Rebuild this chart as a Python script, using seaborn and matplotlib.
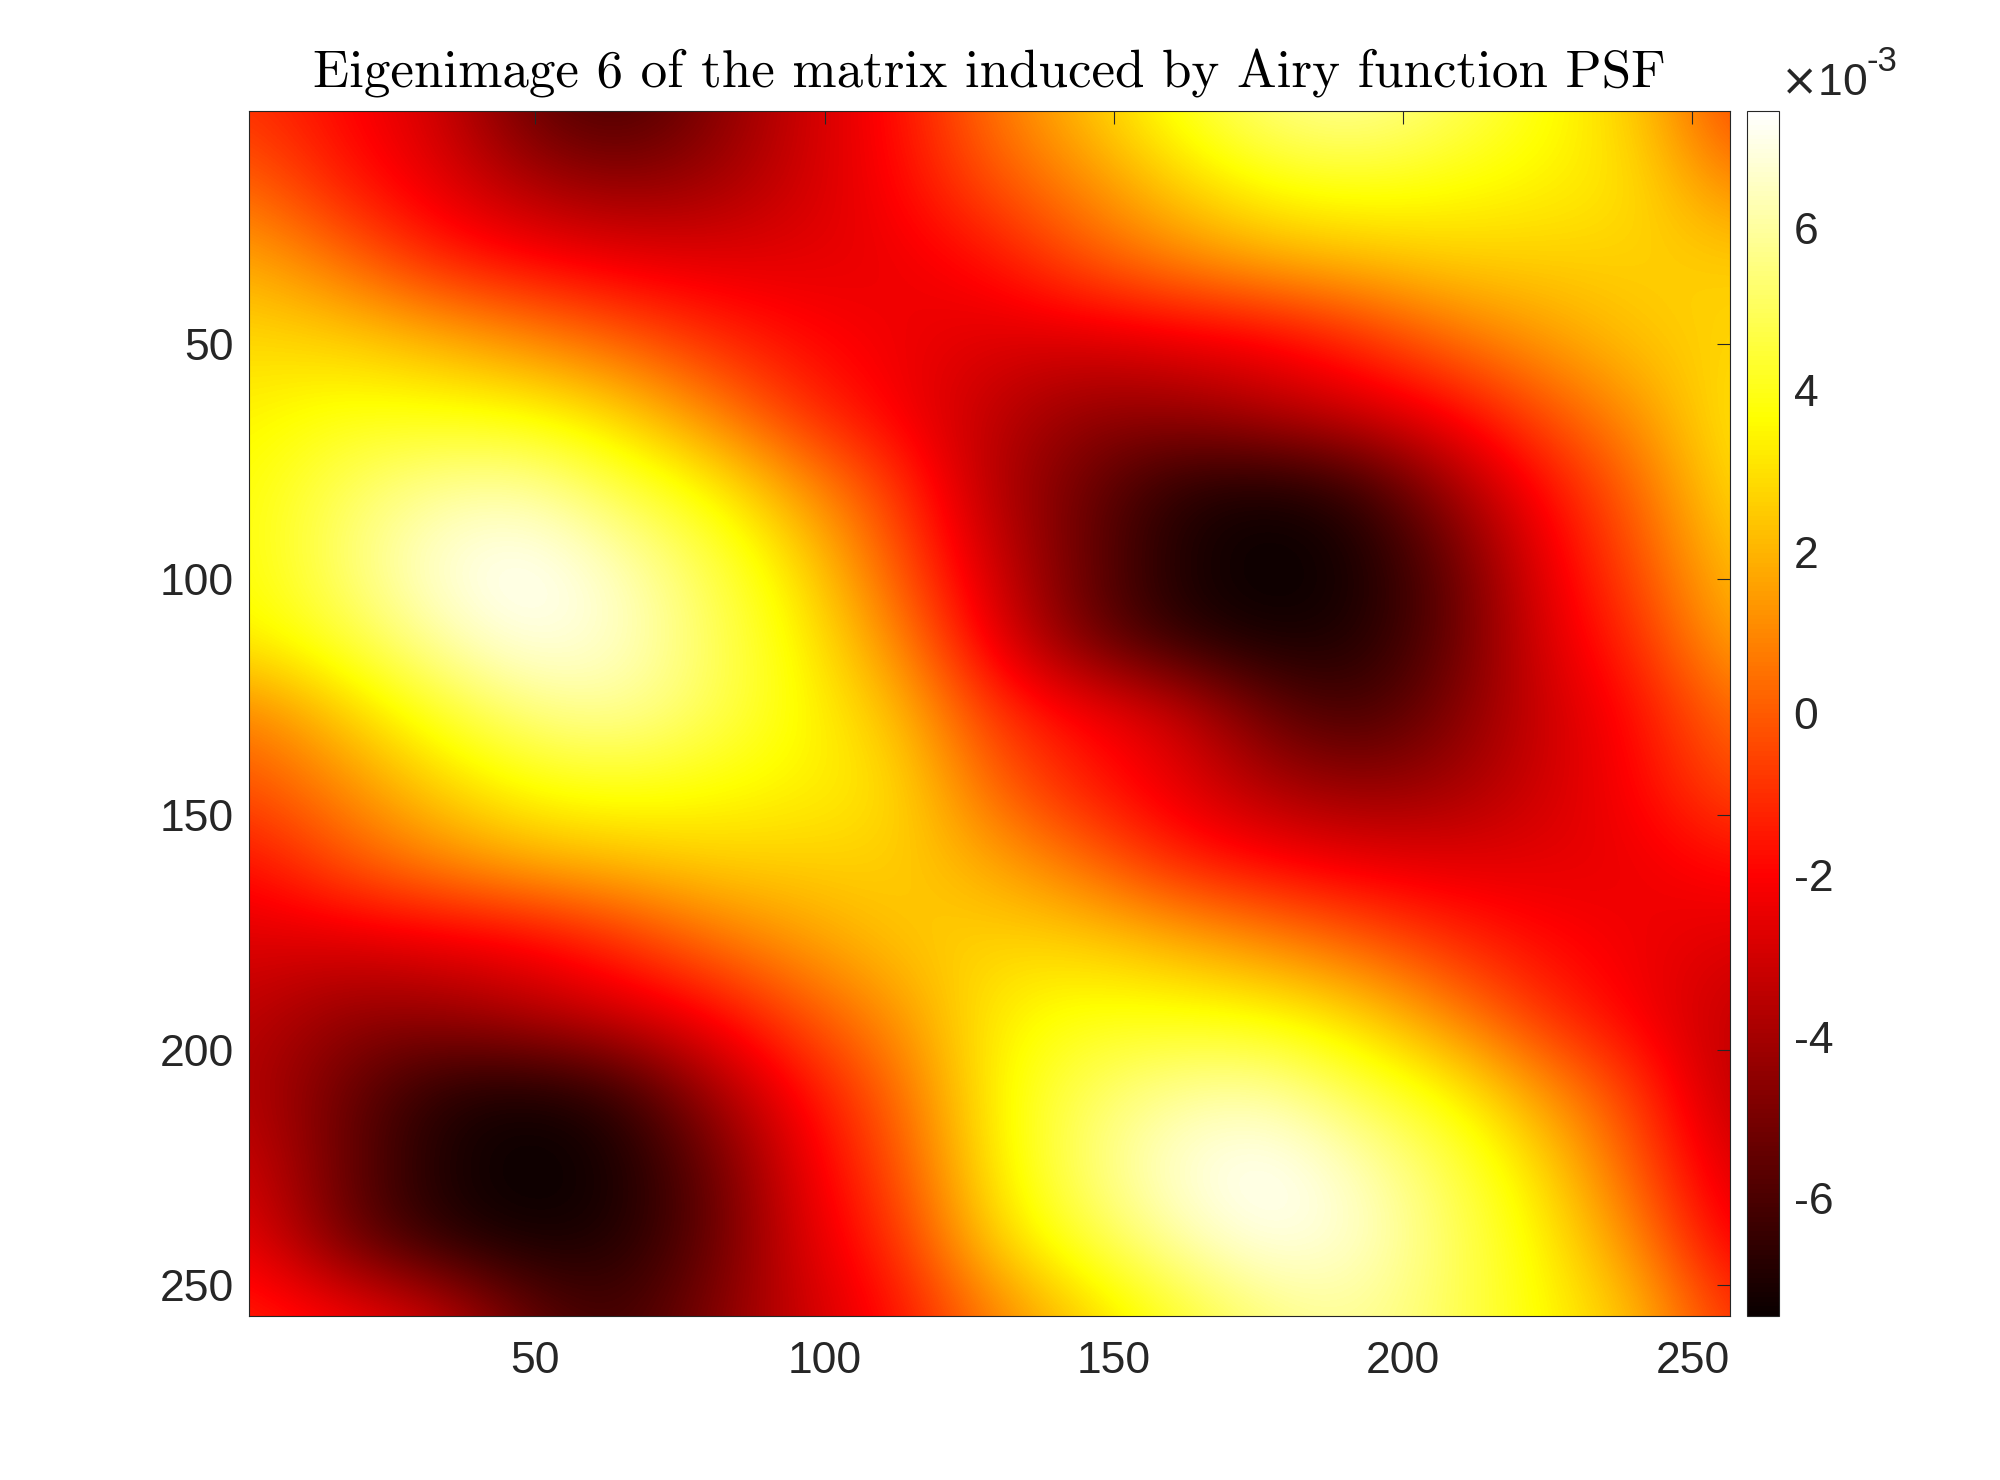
import numpy as np
import matplotlib
matplotlib.use("Agg")
import matplotlib.pyplot as plt
import seaborn as sns

# Eigenimage values (units of 1e-3) on a 16-pixel grid
sample_pos = [0.5, 16.5, 32.5, 48.5, 64.5, 80.5, 96.5, 112.5, 128.5,
              144.5, 160.5, 176.5, 192.5, 208.5, 224.5, 240.5, 256.5]

r000 = [-0.9, -1.9, -2.9, -5.3, -6.3, -4.8, -3.1, -1.8, 0.5, 2.2, 4.0, 5.5, 6.0, 5.0, 3.8, 2.6, -0.6]
r016 = [0.3, -1.4, -2.5, -3.8, -4.4, -4.1, -3.0, -2.0, -0.3, 1.0, 2.6, 3.7, 4.0, 3.7, 3.4, 3.0, 1.0]
r032 = [1.8, 0.5, -1.2, -1.9, -2.4, -2.6, -2.6, -2.4, -1.8, -0.2, 0.9, 1.8, 2.2, 2.6, 2.6, 2.6, 2.6]
r048 = [2.8, 2.6, 1.9, 1.0, 0.0, -1.1, -1.9, -2.3, -2.7, -2.7, -2.4, -2.1, -1.0, 0.5, 1.5, 2.4, 2.7]
r064 = [3.4, 3.9, 3.8, 3.6, 2.7, 0.9, -1.0, -2.2, -3.4, -4.4, -4.3, -3.6, -2.9, -2.0, -0.2, 1.3, 3.2]
r080 = [3.7, 5.0, 5.9, 6.1, 4.7, 3.5, 1.3, -0.8, -3.6, -5.2, -6.8, -7.2, -6.6, -4.1, -1.8, 0.3, 3.0]
r096 = [3.7, 5.3, 6.9, 7.5, 6.4, 4.8, 2.8, -0.1, -3.0, -5.3, -7.0, -7.6, -7.2, -5.4, -2.4, -0.3, 2.4]
r112 = [3.4, 4.5, 6.1, 7.2, 6.7, 5.1, 3.4, 1.0, -2.4, -5.2, -6.8, -7.3, -7.0, -5.5, -2.7, -1.0, 1.8]
r128 = [0.8, 2.5, 4.2, 5.5, 6.0, 5.0, 3.6, 2.3, -0.8, -1.9, -2.9, -5.3, -6.3, -4.8, -3.1, -1.8, 0.5]
r144 = [-0.3, 1.0, 2.6, 3.7, 4.0, 3.7, 3.4, 3.0, 0.3, -1.4, -2.5, -3.8, -4.4, -4.1, -3.0, -2.0, -0.3]
r160 = [-1.8, -0.2, 0.9, 1.8, 2.2, 2.6, 2.6, 2.6, 1.8, 0.5, -1.2, -1.9, -2.4, -2.6, -2.6, -2.4, -1.8]
r176 = [-2.7, -2.7, -2.4, -2.1, -1.0, 0.5, 1.5, 2.4, 2.7, 2.6, 1.9, 1.0, 0.0, -1.1, -1.9, -2.3, -2.7]
r192 = [-3.4, -4.4, -4.3, -3.6, -2.9, -2.0, -0.2, 1.3, 3.3, 3.9, 3.8, 3.6, 2.7, 0.9, -1.0, -2.2, -3.4]
r208 = [-3.6, -5.2, -6.8, -7.2, -6.6, -4.1, -1.8, 0.3, 3.4, 5.0, 5.9, 6.1, 4.7, 3.5, 1.3, -0.8, -3.6]
r224 = [-3.0, -5.3, -7.0, -7.6, -7.2, -5.4, -2.4, -0.3, 3.2, 5.3, 6.9, 7.5, 6.4, 4.8, 2.8, -0.1, -3.0]
r240 = [-2.4, -5.2, -6.8, -7.3, -7.0, -5.5, -2.7, -1.0, 2.6, 4.5, 6.1, 7.2, 6.7, 5.1, 3.4, 1.0, -2.4]
r256 = [-1.2, -1.9, -2.9, -5.3, -6.3, -4.8, -3.1, -1.8, 0.7, 2.5, 4.2, 5.5, 6.0, 5.0, 3.6, 2.3, -1.0]

axis_ticks = [50, 100, 150, 200, 250]
cbar_ticks = [-6, -4, -2, 0, 2, 4, 6]
cbar_labels = ["-6", "-4", "-2", "0", "2", "4", "6"]
clim = 7.45
title = "Eigenimage 6 of the matrix induced by Airy function PSF"

grid = np.array([r000, r016, r032, r048, r064, r080, r096, r112, r128,
                 r144, r160, r176, r192, r208, r224, r240, r256])

sns.set_style("white")
plt.rcParams["font.family"] = ["Liberation Sans", "DejaVu Sans"]
text_col = "#262626"

fig = plt.figure(figsize=(20, 14.8), dpi=100)
ax = fig.add_axes([0.1245, 0.111, 0.7405, 0.814])
cax = fig.add_axes([0.8735, 0.111, 0.016, 0.814])

# samples sit at pixel centres, so pad the extent by half a step
half = (sample_pos[1] - sample_pos[0]) / 2
ext = (sample_pos[0] - half, sample_pos[-1] + half, sample_pos[-1] + half, sample_pos[0] - half)

cmap = sns.color_palette("hot", as_cmap=True)
im = ax.imshow(grid, cmap=cmap, vmin=-clim, vmax=clim, extent=ext,
               interpolation="bicubic", interpolation_stage="data", aspect="auto")
ax.set_xlim(sample_pos[0], sample_pos[-1])
ax.set_ylim(sample_pos[-1], sample_pos[0])

ax.set_xticks(axis_ticks)
ax.set_yticks(axis_ticks)
ax.tick_params(direction="in", length=9.5, width=0.8, top=True, right=True,
               labelsize=32, colors=text_col)
ax.tick_params(axis="x", pad=18)
ax.tick_params(axis="y", pad=11)
for s in ax.spines.values():
    s.set_linewidth(0.8)
    s.set_color(text_col)

ax.set_title(title, fontfamily="cmr10", fontsize=38.2, pad=17, color="black")

cb = fig.colorbar(im, cax=cax, ticks=cbar_ticks)
cb.ax.set_yticklabels(cbar_labels)
cb.ax.tick_params(direction="in", length=10, width=0.8, pad=10.5,
                  labelsize=32, colors=text_col)
cb.outline.set_linewidth(0.8)
cb.outline.set_edgecolor(text_col)

# colorbar exponent label: one text for "x10", a smaller raised one for the power
fig.text(1780 / 2000, 1 - 95 / 1480, r"$\times$10", fontsize=32, color=text_col, va="baseline")
fig.text(1866 / 2000, 1 - 71 / 1480, "-3", fontsize=25, color=text_col, va="baseline")

fig.savefig("out.png", dpi=100, facecolor="white")
